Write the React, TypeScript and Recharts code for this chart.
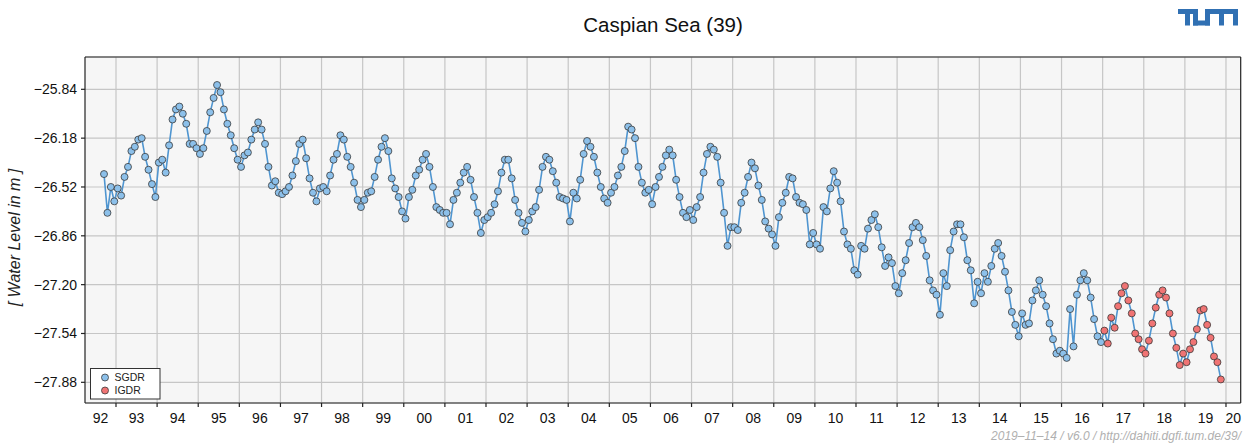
import { ComposedChart, Line, XAxis, YAxis, CartesianGrid } from "recharts";

// monthly mean water level in m (SGDR: Sep 1992 - Dec 2016, IGDR: Jan 2017 - Nov 2019)
const lvl1992 = [-26.43, -26.7, -26.52, -26.62]; // Sep - Dec
const lvl1993 = [-26.53, -26.58, -26.45, -26.38, -26.27, -26.24, -26.19, -26.18, -26.31, -26.4, -26.5, -26.59];
const lvl1994 = [-26.35, -26.33, -26.42, -26.23, -26.05, -25.98, -25.96, -26.01, -26.08, -26.22, -26.22, -26.25];
const lvl1995 = [-26.29, -26.25, -26.13, -26.0, -25.9, -25.81, -25.86, -25.98, -26.08, -26.16, -26.25, -26.33];
const lvl1996 = [-26.38, -26.3, -26.28, -26.19, -26.12, -26.07, -26.12, -26.22, -26.38, -26.51, -26.48, -26.56];
const lvl1997 = [-26.57, -26.55, -26.52, -26.44, -26.34, -26.22, -26.19, -26.32, -26.46, -26.56, -26.62, -26.53];
const lvl1998 = [-26.52, -26.55, -26.44, -26.33, -26.29, -26.16, -26.19, -26.31, -26.38, -26.49, -26.61, -26.66];
const lvl1999 = [-26.61, -26.56, -26.55, -26.45, -26.33, -26.24, -26.18, -26.27, -26.46, -26.53, -26.59, -26.69];
const lvl2000 = [-26.74, -26.59, -26.54, -26.44, -26.4, -26.33, -26.29, -26.38, -26.52, -26.66, -26.68, -26.7];
const lvl2001 = [-26.7, -26.78, -26.61, -26.56, -26.49, -26.42, -26.38, -26.47, -26.59, -26.7, -26.84, -26.75];
const lvl2002 = [-26.73, -26.7, -26.64, -26.55, -26.42, -26.33, -26.33, -26.46, -26.61, -26.7, -26.77, -26.83];
const lvl2003 = [-26.75, -26.69, -26.66, -26.54, -26.38, -26.31, -26.33, -26.41, -26.49, -26.59, -26.6, -26.61];
const lvl2004 = [-26.76, -26.56, -26.6, -26.47, -26.29, -26.2, -26.24, -26.31, -26.42, -26.52, -26.6, -26.63];
const lvl2005 = [-26.56, -26.52, -26.44, -26.38, -26.27, -26.1, -26.12, -26.18, -26.38, -26.49, -26.56, -26.54];
const lvl2006 = [-26.64, -26.52, -26.45, -26.38, -26.3, -26.26, -26.3, -26.47, -26.59, -26.7, -26.73, -26.68];
const lvl2007 = [-26.75, -26.66, -26.59, -26.42, -26.29, -26.24, -26.26, -26.31, -26.49, -26.7, -26.93, -26.8];
const lvl2008 = [-26.8, -26.82, -26.63, -26.56, -26.45, -26.35, -26.39, -26.51, -26.61, -26.76, -26.81, -26.85];
const lvl2009 = [-26.93, -26.73, -26.63, -26.56, -26.45, -26.46, -26.59, -26.63, -26.64, -26.68, -26.92, -26.84];
const lvl2010 = [-26.92, -26.95, -26.66, -26.69, -26.53, -26.41, -26.49, -26.62, -26.83, -26.92, -26.95, -27.1];
const lvl2011 = [-27.13, -26.93, -26.95, -26.81, -26.75, -26.71, -26.8, -26.94, -27.07, -27.01, -27.05, -27.21];
const lvl2012 = [-27.26, -27.12, -27.03, -26.91, -26.8, -26.77, -26.8, -26.89, -27.0, -27.17, -27.24, -27.27];
const lvl2013 = [-27.41, -27.12, -27.21, -26.96, -26.83, -26.78, -26.78, -26.87, -27.03, -27.1, -27.33, -27.18];
const lvl2014 = [-27.26, -27.12, -27.18, -27.07, -26.95, -26.91, -27.0, -27.11, -27.24, -27.39, -27.48, -27.56];
const lvl2015 = [-27.4, -27.48, -27.47, -27.31, -27.24, -27.17, -27.27, -27.35, -27.47, -27.58, -27.68, -27.66];
const lvl2016 = [-27.68, -27.71, -27.37, -27.63, -27.27, -27.17, -27.12, -27.17, -27.29, -27.44, -27.56, -27.6];
const lvl2017 = [-27.52, -27.61, -27.43, -27.5, -27.35, -27.26, -27.21, -27.31, -27.4, -27.54, -27.58, -27.65];
const lvl2018 = [-27.68, -27.59, -27.47, -27.36, -27.27, -27.24, -27.29, -27.4, -27.54, -27.64, -27.76, -27.68];
const lvl2019 = [-27.74, -27.65, -27.6, -27.51, -27.38, -27.37, -27.48, -27.57, -27.7, -27.74, -27.86]; // Jan - Nov

const missions = ["SGDR", "IGDR"];
const years = [1992, 1993, 1994, 1995, 1996, 1997, 1998, 1999, 2000, 2001, 2002, 2003, 2004, 2005,
  2006, 2007, 2008, 2009, 2010, 2011, 2012, 2013, 2014, 2015, 2016, 2017, 2018, 2019, 2020];
const levelTicks = [-25.84, -26.18, -26.52, -26.86, -27.2, -27.54, -27.88];

const X_MIN = 1992.246;
const X_MAX = 2020.358;
const Y_MIN = -28.024;
const Y_MAX = -25.615;

const BLUE = "#8cc0ea";
const RED = "#f07474";
const LINE = "#4f95d0";
const FRAME = "#222";
const FONT = "'Liberation Sans', Arial, Helvetica, sans-serif";
const TICK_SIZE = 4;
const TICK_MARGIN = 6;
const DOT_R = 3.5;

type Pt = { t: number; h: number; mission: string };

const monthly = (year: number, values: number[], mission: string, firstMonth = 0): Pt[] =>
  values.map((h, i) => ({ t: year + (firstMonth + i + 0.5) / 12, h, mission }));

const points: Pt[] = [
  ...monthly(1992, lvl1992, missions[0], 8),
  ...monthly(1993, lvl1993, missions[0]),
  ...monthly(1994, lvl1994, missions[0]),
  ...monthly(1995, lvl1995, missions[0]),
  ...monthly(1996, lvl1996, missions[0]),
  ...monthly(1997, lvl1997, missions[0]),
  ...monthly(1998, lvl1998, missions[0]),
  ...monthly(1999, lvl1999, missions[0]),
  ...monthly(2000, lvl2000, missions[0]),
  ...monthly(2001, lvl2001, missions[0]),
  ...monthly(2002, lvl2002, missions[0]),
  ...monthly(2003, lvl2003, missions[0]),
  ...monthly(2004, lvl2004, missions[0]),
  ...monthly(2005, lvl2005, missions[0]),
  ...monthly(2006, lvl2006, missions[0]),
  ...monthly(2007, lvl2007, missions[0]),
  ...monthly(2008, lvl2008, missions[0]),
  ...monthly(2009, lvl2009, missions[0]),
  ...monthly(2010, lvl2010, missions[0]),
  ...monthly(2011, lvl2011, missions[0]),
  ...monthly(2012, lvl2012, missions[0]),
  ...monthly(2013, lvl2013, missions[0]),
  ...monthly(2014, lvl2014, missions[0]),
  ...monthly(2015, lvl2015, missions[0]),
  ...monthly(2016, lvl2016, missions[0]),
  ...monthly(2017, lvl2017, missions[1]),
  ...monthly(2018, lvl2018, missions[1]),
  ...monthly(2019, lvl2019, missions[1]),
];

// year boundaries carry the tick marks and grid, labels sit in the middle of each visible year
const yearBounds = years.filter((y) => y > X_MIN && y < X_MAX);
const labelCenters = years.map((y) => (Math.max(y, X_MIN) + Math.min(y + 1, X_MAX)) / 2);
const bottomTicks = [...yearBounds, ...labelCenters].sort((a, b) => a - b);

const fmtLevel = (v: number) => v.toFixed(2).replace("-", "\u2212");

const YearTick = (props: any) => {
  const { x, y, payload } = props;
  const v = payload.value as number;
  if (Number.isInteger(v)) {
    return (
      <line x1={x} x2={x} y1={y - TICK_MARGIN - TICK_SIZE} y2={y - TICK_MARGIN} stroke={FRAME} strokeWidth={1.2} />
    );
  }
  const label = String(Math.floor(v) % 100).padStart(2, "0");
  return (
    <text x={x} y={y} dy="0.71em" textAnchor="middle" fontSize={14} fill="#111" fontFamily={FONT}>
      {label}
    </text>
  );
};

const renderDot = (p: any) => (
  <circle
    key={`dot-${p.index}`}
    cx={p.cx}
    cy={p.cy}
    r={DOT_R}
    fill={p.payload.mission === missions[1] ? RED : BLUE}
    stroke="#3a3a3a"
    strokeWidth={0.8}
  />
);

const TumLogo = () => (
  <g fill="#3070b3">
    <rect x={1178} y={9} width={20} height={5} />
    <rect x={1185} y={9} width={5} height={16.5} />
    <rect x={1193} y={9} width={5} height={16.5} />
    <rect x={1193} y={20.5} width={17} height={5} />
    <rect x={1205} y={9} width={33} height={5} />
    <rect x={1205} y={9} width={5} height={16.5} />
    <rect x={1219} y={9} width={5} height={16.5} />
    <rect x={1233} y={9} width={5} height={16.5} />
  </g>
);

export default function App() {
  return (
    <div style={{ position: "absolute", left: 0, top: 0, width: 1252, height: 443, background: "#fff" }}>
      <ComposedChart
        width={1252}
        height={443}
        data={points}
        margin={{ top: 52, right: 5.3, bottom: 10, left: 10 }}
        style={{ fontFamily: FONT }}
      >
        <CartesianGrid fill="#f6f6f6" stroke="#c6c6c6" strokeWidth={1.2} verticalValues={yearBounds} />
        <XAxis
          dataKey="t"
          type="number"
          domain={[X_MIN, X_MAX]}
          allowDataOverflow
          ticks={bottomTicks}
          interval={0}
          tick={<YearTick />}
          tickLine={false}
          tickSize={TICK_SIZE}
          tickMargin={TICK_MARGIN}
          axisLine={{ stroke: FRAME, strokeWidth: 1.2 }}
          height={30}
        />
        <XAxis
          xAxisId="top"
          orientation="top"
          type="number"
          domain={[X_MIN, X_MAX]}
          allowDataOverflow
          ticks={yearBounds}
          interval={0}
          tick={false}
          tickSize={TICK_SIZE}
          tickLine={{ stroke: FRAME, strokeWidth: 1.2 }}
          axisLine={{ stroke: FRAME, strokeWidth: 1.2 }}
          height={5}
        />
        <YAxis
          dataKey="h"
          type="number"
          domain={[Y_MIN, Y_MAX]}
          allowDataOverflow
          ticks={levelTicks}
          interval={0}
          tickFormatter={fmtLevel}
          tick={{ fontSize: 14, fill: "#111", fontFamily: FONT }}
          tickSize={TICK_SIZE}
          tickMargin={4}
          tickLine={{ stroke: FRAME, strokeWidth: 1.2 }}
          axisLine={{ stroke: FRAME, strokeWidth: 1.2 }}
          width={75}
        />
        <YAxis
          yAxisId="right"
          orientation="right"
          type="number"
          domain={[Y_MIN, Y_MAX]}
          allowDataOverflow
          ticks={levelTicks}
          interval={0}
          tick={false}
          tickSize={TICK_SIZE}
          tickLine={{ stroke: FRAME, strokeWidth: 1.2 }}
          axisLine={{ stroke: FRAME, strokeWidth: 1.2 }}
          width={6}
        />
        <Line
          dataKey="h"
          stroke={LINE}
          strokeWidth={1.6}
          dot={renderDot}
          activeDot={false}
          isAnimationActive={false}
        />
      </ComposedChart>
      <svg
        width={1252}
        height={443}
        style={{ position: "absolute", left: 0, top: 0, pointerEvents: "none", fontFamily: FONT }}
      >
        <text x={663} y={32} textAnchor="middle" fontSize={20.5} fill="#111">
          Caspian Sea (39)
        </text>
        <TumLogo />
        <text
          transform="translate(19.5 237.5) rotate(-90)"
          textAnchor="middle"
          fontSize={16}
          fontStyle="italic"
          fill="#222"
        >
          [ Water Level in m ]
        </text>
        <g>
          <rect x={90.5} y={368.5} width={69.5} height={30.5} fill="#fff" stroke="#333" strokeWidth={1} />
          <circle cx={105} cy={377.5} r={DOT_R} fill={BLUE} stroke="#3a3a3a" strokeWidth={0.8} />
          <circle cx={105} cy={390.5} r={DOT_R} fill={RED} stroke="#3a3a3a" strokeWidth={0.8} />
          <text x={114.5} y={381.3} fontSize={10.5} fill="#222">{missions[0]}</text>
          <text x={114.5} y={394.3} fontSize={10.5} fill="#222">{missions[1]}</text>
        </g>
        <text x={1241} y={440} textAnchor="end" fontSize={12} fontStyle="italic" fill="#b0b0b0">
          2019–11–14 / v6.0 / http://dahiti.dgfi.tum.de/39/
        </text>
      </svg>
    </div>
  );
}
